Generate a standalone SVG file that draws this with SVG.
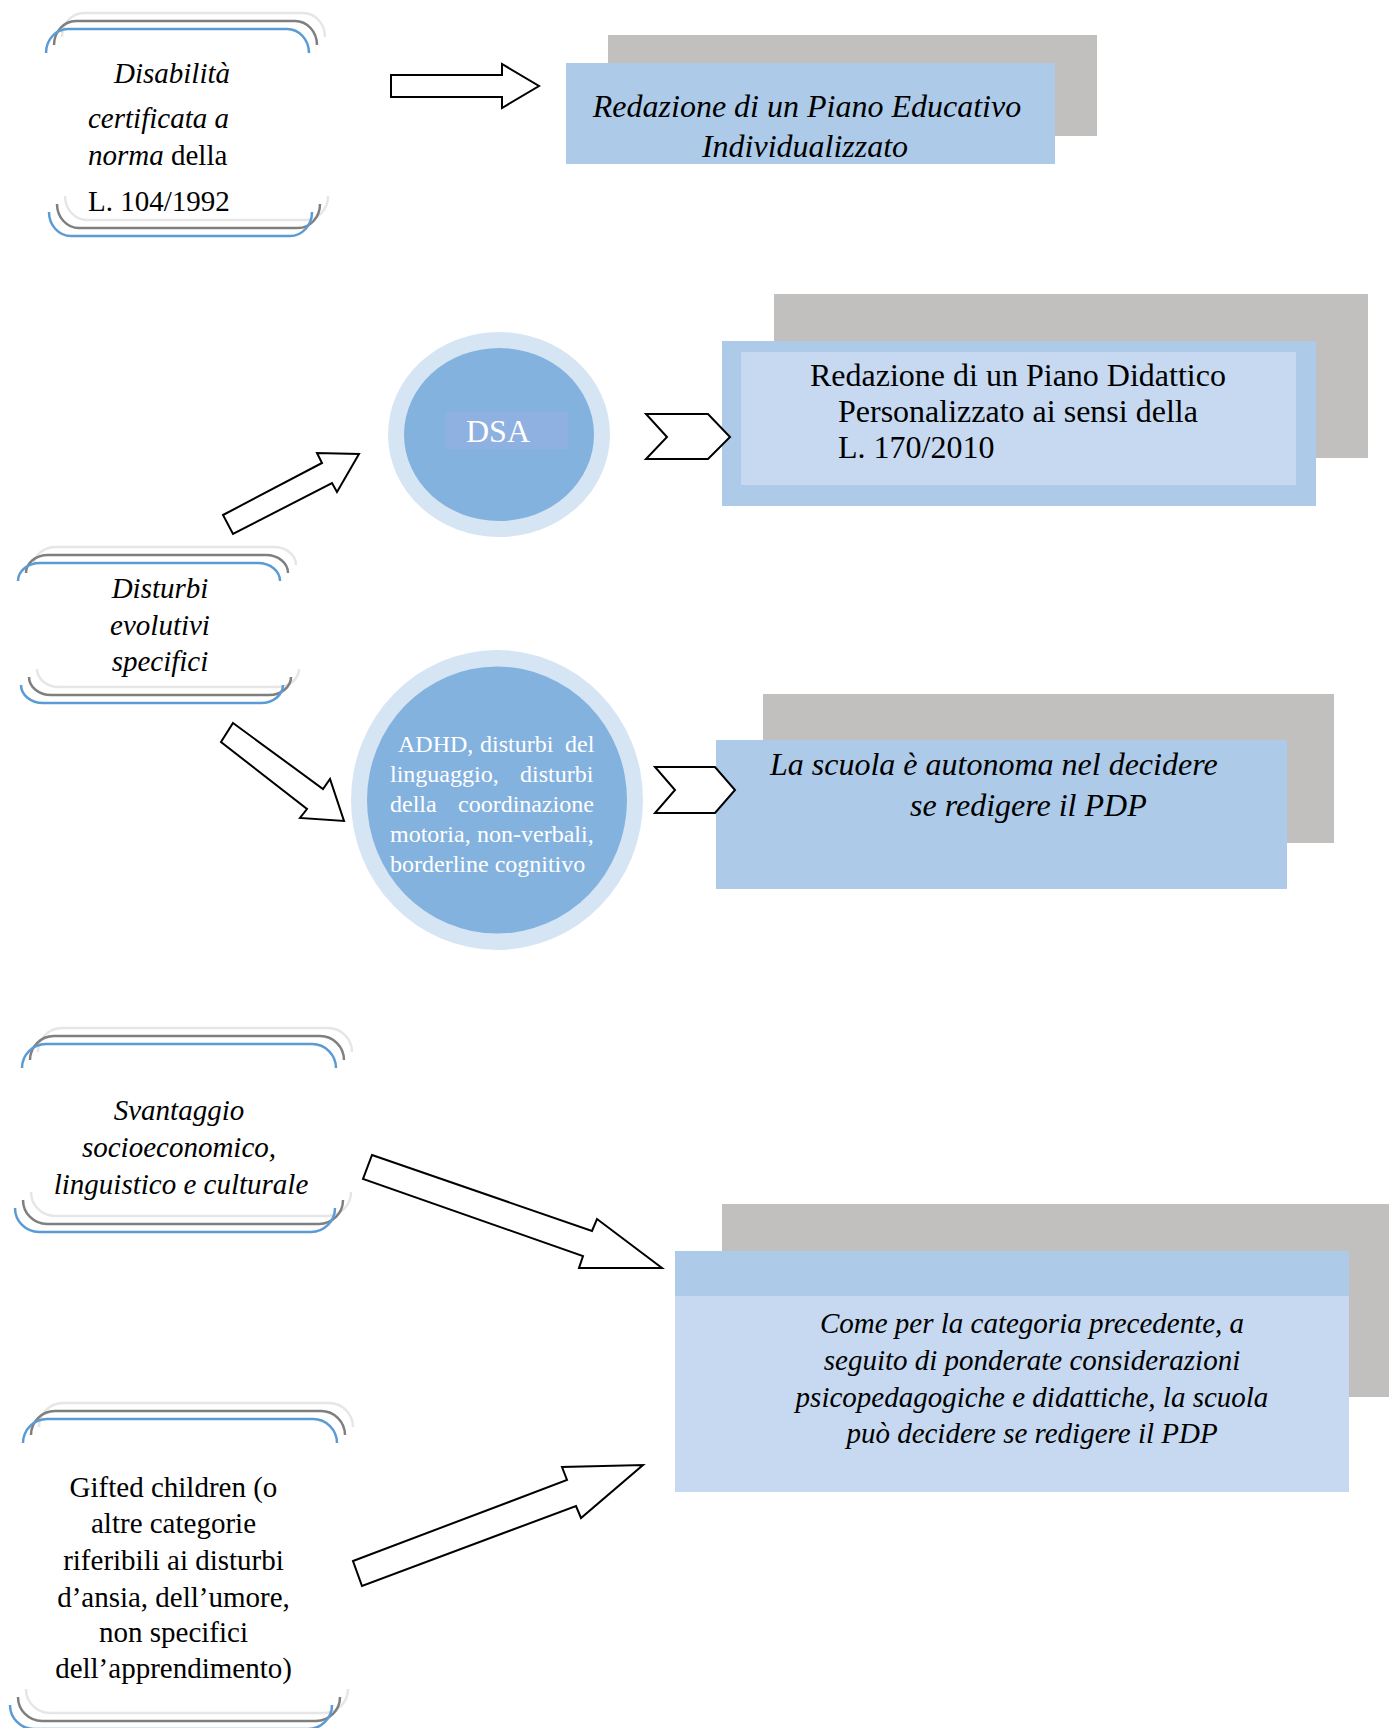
<svg xmlns="http://www.w3.org/2000/svg" width="1389" height="1728" viewBox="0 0 1389 1728">
<style>
.t{font-family:"Liberation Serif","Times New Roman",serif;fill:#000}
.i{font-style:italic}
.s29{font-size:29px}
.s32{font-size:32px}
.s24{font-size:24px}
.w{fill:#fff}
.c{text-anchor:middle}
.bl{fill:none;stroke:#5B9BD5;stroke-width:2.5}
.dk{fill:none;stroke:#7F7F7F;stroke-width:2.5}
.lt{fill:none;stroke:#E6E6E6;stroke-width:2.5}
.shadow{fill:#C1C0BF}
.box{fill:#ADCBE8}
.boxl{fill:#C6D9F0}
.arr{fill:#fff;stroke:#000;stroke-width:2;stroke-linejoin:miter}
</style>
<defs>
<g id="br1">
<path d="M46,53 A22 24 0 0 1 68,29 L287,29 A22 24 0 0 1 309,53"/>
<path d="M49,212 A22 24 0 0 0 71,236 L290,236 A22 24 0 0 0 312,212"/>
</g>
<g id="br2">
<path d="M18,581 A22 18 0 0 1 40,563 L258,563 A22 18 0 0 1 280,581"/>
<path d="M21,685 A22 18 0 0 0 43,703 L261,703 A22 18 0 0 0 283,685"/>
</g>
<g id="br3">
<path d="M22,1068 A24 24 0 0 1 46,1044 L312,1044 A24 24 0 0 1 336,1068"/>
<path d="M15,1208 A24 24 0 0 0 39,1232 L311,1232 A24 24 0 0 0 335,1208"/>
</g>
<g id="br4">
<path d="M23,1443 A24 24 0 0 1 47,1419 L313,1419 A24 24 0 0 1 337,1443"/>
<path d="M10,1705 A24 24 0 0 0 34,1729 L308,1729 A24 24 0 0 0 332,1705"/>
</g>
</defs>
<rect width="1389" height="1728" fill="#fff"/>

<g id="node-disabilita">
<use href="#br1" class="lt" transform="translate(16,-16)"/>
<use href="#br1" class="dk" transform="translate(8,-8)"/>
<use href="#br1" class="bl"/>
<text class="t i s29" x="114" y="83">Disabilità</text>
<text class="t i s29" x="88" y="128">certificata a</text>
<text class="t s29" x="88" y="165"><tspan class="i">norma</tspan> della</text>
<text class="t s29" x="88" y="211">L. 104/1992</text>
</g>

<g id="node-pei">
<rect class="shadow" x="608" y="35" width="489" height="101"/>
<rect class="box" x="566" y="63" width="489" height="101"/>
<text class="t i s32 c" x="807" y="117">Redazione di un Piano Educativo</text>
<text class="t i s32 c" x="805" y="157">Individualizzato</text>
</g>

<g id="node-dsa">
<ellipse cx="499" cy="434.5" rx="111" ry="102.5" fill="#D6E5F4"/>
<ellipse cx="499" cy="434.5" rx="95" ry="86.5" fill="#84B2DF"/>
<rect x="446" y="412" width="122" height="37" fill="#8EB1E1"/>
<text class="t s32 w c" x="498" y="442">DSA</text>
</g>

<g id="node-pdp-dsa">
<rect class="shadow" x="774" y="294" width="594" height="164"/>
<rect class="box" x="722" y="341" width="594" height="165"/>
<rect class="boxl" x="741" y="352" width="555" height="133"/>
<text class="t s32" x="810" y="386">Redazione di un Piano Didattico</text>
<text class="t s32" x="838" y="422">Personalizzato ai sensi della</text>
<text class="t s32" x="838" y="458">L. 170/2010</text>
</g>

<g id="node-disturbi">
<use href="#br2" class="lt" transform="translate(16,-16)"/>
<use href="#br2" class="dk" transform="translate(8,-8)"/>
<use href="#br2" class="bl"/>
<text class="t i s29 c" x="160" y="598">Disturbi</text>
<text class="t i s29 c" x="160" y="635">evolutivi</text>
<text class="t i s29 c" x="160" y="671">specifici</text>
</g>

<g id="node-adhd">
<ellipse cx="497" cy="800" rx="146" ry="150" fill="#D6E5F4"/>
<ellipse cx="497" cy="800" rx="130" ry="133.5" fill="#84B2DF"/>
<text class="t s24 w" y="752"><tspan x="398">ADHD,</tspan><tspan x="480">disturbi</tspan><tspan x="565">del</tspan></text>
<text class="t s24 w" y="782"><tspan x="390">linguaggio,</tspan><tspan x="520">disturbi</tspan></text>
<text class="t s24 w" y="812"><tspan x="390">della</tspan><tspan x="458">coordinazione</tspan></text>
<text class="t s24 w" y="842"><tspan x="390">motoria,</tspan><tspan x="477">non-verbali,</tspan></text>
<text class="t s24 w" x="390" y="872">borderline cognitivo</text>
</g>

<g id="node-autonoma">
<rect class="shadow" x="763" y="694" width="571" height="149"/>
<rect class="box" x="716" y="740" width="571" height="149"/>
<text class="t i s32" x="770" y="775">La scuola è autonoma nel decidere</text>
<text class="t i s32" x="910" y="816">se redigere il PDP</text>
</g>

<g id="node-svantaggio">
<use href="#br3" class="lt" transform="translate(16,-16)"/>
<use href="#br3" class="dk" transform="translate(8,-8)"/>
<use href="#br3" class="bl"/>
<text class="t i s29 c" x="179" y="1120">Svantaggio</text>
<text class="t i s29 c" x="179" y="1157">socioeconomico,</text>
<text class="t i s29 c" x="181" y="1194">linguistico e culturale</text>
</g>

<g id="node-gifted">
<use href="#br4" class="lt" transform="translate(16,-16)"/>
<use href="#br4" class="dk" transform="translate(8,-8)"/>
<use href="#br4" class="bl"/>
<text class="t s29 c" x="173.5" y="1497">Gifted children (o</text>
<text class="t s29 c" x="173.5" y="1533">altre categorie</text>
<text class="t s29 c" x="173.5" y="1570">riferibili ai disturbi</text>
<text class="t s29 c" x="173.5" y="1607">d’ansia, dell’umore,</text>
<text class="t s29 c" x="173.5" y="1642">non specifici</text>
<text class="t s29 c" x="173.5" y="1678">dell’apprendimento)</text>
</g>

<g id="node-come">
<rect class="shadow" x="722" y="1204" width="680" height="193"/>
<rect class="box" x="675" y="1251" width="674" height="46"/>
<rect class="boxl" x="675" y="1296" width="674" height="196"/>
<text class="t i s29 c" x="1032" y="1333">Come per la categoria precedente, a</text>
<text class="t i s29 c" x="1032" y="1370">seguito di ponderate considerazioni</text>
<text class="t i s29 c" x="1032" y="1407">psicopedagogiche e didattiche, la scuola</text>
<text class="t i s29 c" x="1032" y="1443">può decidere se redigere il PDP</text>
</g>

<g id="connectors">
<polygon class="arr" points="391,75 502,75 502,64 539,86 502,108 502,97 391,97"/>
<polygon class="arr" points="223,515 322,463 317,453 359,454 337,492 332,483 233,534"/>
<polygon class="arr" points="646,414 708,414 730,437 708,459 646,459 667,437"/>
<polygon class="arr" points="233,723 323,789 330,779 344,821 300,818 307,809 221,742"/>
<polygon class="arr" points="655,767 715,767 735,790 715,813 655,813 675,790"/>
<polygon class="arr" points="372,1155 592,1231 597,1219 662,1268 579,1268 583,1256 363,1179"/>
<polygon class="arr" points="353,1561 567,1480 562,1467 643,1465 581,1518 576,1506 362,1586"/>
</g>
</svg>
